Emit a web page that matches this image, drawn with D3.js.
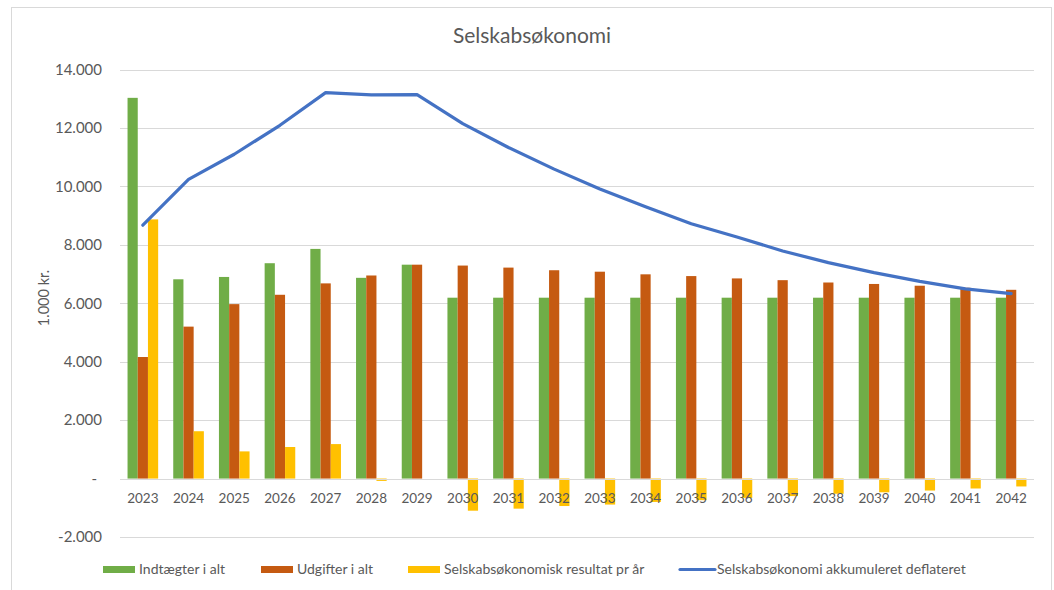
<!DOCTYPE html>
<html>
<head>
<meta charset="utf-8">
<script src="https://cdn.jsdelivr.net/npm/d3@7"></script>
<style>
  html, body { margin: 0; padding: 0; background: #fff; }
  svg { display: block; font-family: Lato, "Open Sans", "Noto Sans", sans-serif; }
</style>
</head>
<body>
<svg id="chart" width="1054" height="590"></svg>
<script>
const years = ["2023","2024","2025","2026","2027","2028","2029","2030","2031","2032","2033","2034","2035","2036","2037","2038","2039","2040","2041","2042"];
const indtaegter = [13030,6820,6900,7370,7860,6870,7320,6190,6190,6190,6190,6190,6190,6190,6190,6190,6190,6190,6190,6190];
const udgifter   = [4160,5200,5970,6290,6680,6950,7320,7290,7220,7130,7080,6990,6930,6850,6790,6710,6660,6600,6530,6460];
const resultat   = [8870,1620,930,1080,1180,-80,0,-1100,-1030,-940,-890,-800,-740,-660,-600,-520,-470,-410,-340,-270];
const akkumuleret = [8670,10240,11100,12090,13210,13130,13140,12150,11330,10590,9910,9300,8720,8270,7790,7390,7050,6750,6490,6330];
const yTicks = [-2000,0,2000,4000,6000,8000,10000,12000,14000];
const yTickLabels = ["-2.000","-","2.000","4.000","6.000","8.000","10.000","12.000","14.000"];
const seriesNames = ["Indtægter i alt","Udgifter i alt","Selskabsøkonomisk resultat pr år","Selskabsøkonomi akkumuleret deflateret"];
const colors = ["#70AD47","#C55A11","#FFC000","#4472C4"];

const svg = d3.select("#chart");
const textColor = "#595959";

// frame
svg.append("rect").attr("x",11.5).attr("y",7.5).attr("width",1040).attr("height",600)
  .attr("fill","#fff").attr("stroke","#D9D9D9").attr("stroke-width",1);

const left = 120, right = 1034;
const x = d3.scaleBand().domain(years).range([left,right]).paddingInner(0.33).paddingOuter(0.165);
const y = d3.scaleLinear().domain([-2000,14000]).range([537,69.5]);

// gridlines
svg.append("g").selectAll("line").data(yTicks).join("line")
  .attr("x1",left).attr("x2",right)
  .attr("y1",d=>Math.round(y(d))+0.5).attr("y2",d=>Math.round(y(d))+0.5)
  .attr("stroke","#D9D9D9").attr("stroke-width",1);

// y tick labels
svg.append("g").selectAll("text").data(yTicks).join("text")
  .attr("x",d=> d===0 ? 97 : 102).attr("y",d=>y(d))
  .attr("dy","0.35em").attr("text-anchor","end")
  .attr("font-size",15).attr("fill",textColor).text((d,i)=>yTickLabels[i]);

// y axis title
svg.append("text").attr("transform","translate(49,298) rotate(-90)")
  .attr("text-anchor","middle").attr("font-size",14.5).attr("fill",textColor).text("1.000 kr.");

// title
svg.append("text").attr("x",532).attr("y",43).attr("text-anchor","middle")
  .attr("font-size",21).attr("fill",textColor).text("Selskabsøkonomi");

// bars
const sub = d3.scaleBand().domain([0,1,2]).range([0,x.bandwidth()]);
const barSeries = [indtaegter, udgifter, resultat];
barSeries.forEach((vals,si)=>{
  svg.append("g").selectAll("rect").data(vals).join("rect")
    .attr("x",(d,i)=>x(years[i])+sub(si))
    .attr("width",sub.bandwidth())
    .attr("y",d=>y(Math.max(0,d)))
    .attr("height",d=>Math.abs(y(d)-y(0)))
    .attr("fill",colors[si]);
});

// zero axis line over bars
svg.append("line").attr("x1",left).attr("x2",right)
  .attr("y1",Math.round(y(0))+0.5).attr("y2",Math.round(y(0))+0.5)
  .attr("stroke","#D9D9D9").attr("stroke-width",1);

// x labels
svg.append("g").selectAll("text").data(years).join("text")
  .attr("x",d=>x(d)+x.bandwidth()/2).attr("y",503)
  .attr("text-anchor","middle").attr("font-size",13.5).attr("fill",textColor).text(d=>d);

// line
const line = d3.line().x((d,i)=>x(years[i])+x.bandwidth()/2).y(d=>y(d));
svg.append("path").datum(akkumuleret).attr("d",line)
  .attr("fill","none").attr("stroke",colors[3]).attr("stroke-width",3.2)
  .attr("stroke-linejoin","round").attr("stroke-linecap","round");

// legend
const legendItems = [
  {x:103, tx:139},
  {x:261, tx:297},
  {x:408, tx:444},
  {x:680, tx:717}
];
const lg = svg.append("g");
legendItems.forEach((it,i)=>{
  if (i<3) {
    lg.append("rect").attr("x",it.x).attr("y",566).attr("width",32).attr("height",7).attr("fill",colors[i]);
  } else {
    lg.append("line").attr("x1",it.x).attr("x2",it.x+35).attr("y1",569.5).attr("y2",569.5)
      .attr("stroke",colors[3]).attr("stroke-width",3.2).attr("stroke-linecap","round");
  }
  lg.append("text").attr("x",it.tx).attr("y",569.5).attr("dy","0.35em")
    .attr("font-size",14).attr("fill",textColor).text(seriesNames[i]);
});
</script>
</body>
</html>
